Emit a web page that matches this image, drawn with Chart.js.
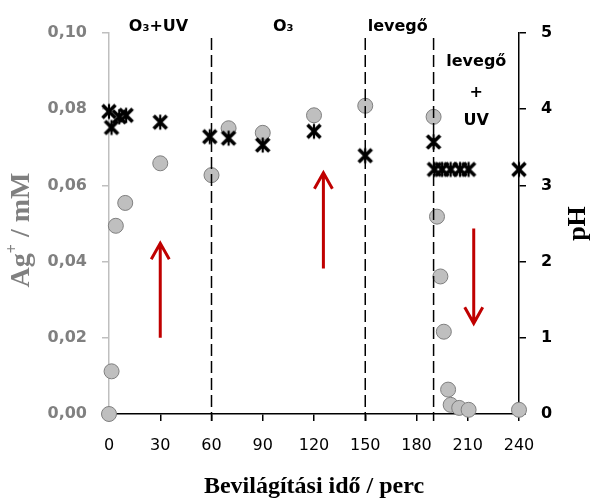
<!DOCTYPE html>
<html>
<head>
<meta charset="utf-8">
<script src="https://cdn.jsdelivr.net/npm/chart.js@4.4.0/dist/chart.umd.min.js"></script>
<style>
  html, body { margin: 0; padding: 0; background: #fff; }
</style>
</head>
<body>
<canvas id="myChart" width="592" height="501"></canvas>
<script>
// Ag+ concentration (mM), grey circles, left axis
const agTimes  = [0, 1.5, 4, 9.5, 30, 60, 70, 90, 120, 150, 190, 192, 194, 196, 198.5, 200, 205, 210.5, 240];
const agValues = [0, 0.0112, 0.0494, 0.0554, 0.0658, 0.0627, 0.0750, 0.0738, 0.0784, 0.0809, 0.0780,
                  0.0518, 0.0361, 0.0216, 0.0064, 0.0024, 0.0016, 0.0011, 0.0011];

// pH, black stars, right axis
const phTimes  = [0, 1.5, 6, 10, 30, 59, 70, 90, 120, 150, 190, 190.5, 195, 200, 205.5, 210.5, 240];
const phValues = [3.97, 3.76, 3.90, 3.92, 3.83, 3.64, 3.62, 3.53, 3.71, 3.39, 3.57,
                  3.21, 3.21, 3.21, 3.21, 3.21, 3.21];

const xTicks  = [0, 30, 60, 90, 120, 150, 180, 210, 240];
const agTicks = [0, 0.02, 0.04, 0.06, 0.08, 0.10];
const phTicks = [0, 1, 2, 3, 4, 5];

// treatment phases
const phaseBounds = [60, 150, 190];
const phaseLabels = [['O₃+UV'], ['O₃'], ['levegő'], ['levegő', '+', 'UV']];
const phaseLabelAt = [29, 102, 169, 215];

// red arrows (time, Ag from, Ag to)
const arrowTimes = [30, 125.5, 213.5];
const arrowFrom  = [0.0200, 0.0382, 0.0487];
const arrowTo    = [0.0448, 0.0633, 0.0238];

const xTitle = 'Bevilágítási idő / perc';
const phTitle = 'pH';

function starMarker() {
    const c = document.createElement('canvas');
    c.width = 20; c.height = 20;
    const g = c.getContext('2d');
    g.strokeStyle = '#000';
    g.lineWidth = 3.6;
    g.beginPath();
    g.moveTo(3.5, 3.5); g.lineTo(16.5, 16.5);
    g.moveTo(16.5, 3.5); g.lineTo(3.5, 16.5);
    g.stroke();
    g.lineWidth = 2.2;
    g.beginPath();
    g.moveTo(10, 2.5); g.lineTo(10, 17.5);
    g.stroke();
    return c;
}

const overlay = {
    id: 'overlay',
    afterDatasetsDraw(chart) {
        const ctx = chart.ctx;
        const x = chart.scales.x, y = chart.scales.y;
        const area = chart.chartArea;

        // dashed phase boundaries
        ctx.save();
        ctx.strokeStyle = '#000';
        ctx.lineWidth = 1.5;
        ctx.setLineDash([12, 5]);
        phaseBounds.forEach(t => {
            const px = x.getPixelForValue(t);
            ctx.beginPath();
            ctx.moveTo(px, y.getPixelForValue(0.0987));
            ctx.lineTo(px, area.bottom + 7);
            ctx.stroke();
        });
        ctx.restore();

        // arrows
        ctx.save();
        ctx.strokeStyle = '#c00000';
        ctx.lineWidth = 3;
        arrowTimes.forEach((t, i) => {
            const px = x.getPixelForValue(t);
            const y0 = y.getPixelForValue(arrowFrom[i]);
            const y1 = y.getPixelForValue(arrowTo[i]);
            const dir = y1 < y0 ? 1 : -1;
            ctx.beginPath();
            ctx.moveTo(px, y0);
            ctx.lineTo(px, y1);
            ctx.moveTo(px - 9, y1 + dir * 16);
            ctx.lineTo(px, y1);
            ctx.lineTo(px + 9, y1 + dir * 16);
            ctx.stroke();
        });
        ctx.restore();

        // phase labels
        ctx.save();
        ctx.fillStyle = '#000';
        ctx.font = 'bold 16px "DejaVu Sans"';
        ctx.textAlign = 'center';
        ctx.textBaseline = 'alphabetic';
        const rowBase = [31, 66, 97, 125];
        phaseLabels.forEach((lines, i) => {
            const px = x.getPixelForValue(phaseLabelAt[i]);
            lines.forEach((s, j) => {
                const base = lines.length > 1 ? rowBase[j + 1] : rowBase[0];
                ctx.fillText(s, px, base);
            });
        });
        ctx.restore();

        // axis titles
        ctx.save();
        ctx.fillStyle = '#000';
        ctx.font = 'bold 24px "Liberation Serif"';
        ctx.textAlign = 'center';
        ctx.textBaseline = 'middle';
        ctx.fillText(xTitle, (area.left + area.right) / 2, 487);

        ctx.save();
        ctx.translate(578, (area.top + area.bottom) / 2);
        ctx.rotate(-Math.PI / 2);
        ctx.font = 'bold 26px "Liberation Serif"';
        ctx.fillText(phTitle, 0, 0);
        ctx.restore();

        ctx.save();
        ctx.translate(22, 230);
        ctx.rotate(-Math.PI / 2);
        ctx.fillStyle = '#808080';
        ctx.textAlign = 'left';
        const big = 'bold 28px "Liberation Serif"', small = 'bold 16px "Liberation Serif"';
        ctx.font = big; const w1 = ctx.measureText('Ag').width, w3 = ctx.measureText(' / mM').width;
        ctx.font = small; const w2 = ctx.measureText('+').width;
        let cx = -(w1 + w2 + w3) / 2;
        ctx.font = big; ctx.fillText('Ag', cx, 0); cx += w1;
        ctx.font = small; ctx.fillText('+', cx, -9); cx += w2;
        ctx.font = big; ctx.fillText(' / mM', cx, 0);
        ctx.restore();
        ctx.restore();
    }
};

const ctx = document.getElementById('myChart').getContext('2d');
const chart = new Chart(ctx, {
    type: 'scatter',
    data: {
        datasets: [{
            label: 'pH',
            data: phTimes.map((t, i) => ({ x: t, y: phValues[i] })),
            yAxisID: 'y2',
            pointStyle: starMarker(),
            pointRadius: 10,
            clip: false,
            order: 0
        }, {
            label: 'Ag+',
            data: agTimes.map((t, i) => ({ x: t, y: agValues[i] })),
            yAxisID: 'y',
            pointStyle: 'circle',
            pointRadius: 7.5,
            backgroundColor: '#bfbfbf',
            borderColor: '#7f7f7f',
            borderWidth: 1,
            clip: false,
            order: 1
        }]
    },
    options: {
        responsive: false,
        animation: false,
        layout: { padding: { top: 33, left: 0, right: 0, bottom: 0 } },
        plugins: { legend: { display: false }, tooltip: { enabled: false } },
        scales: {
            x: {
                type: 'linear', min: 0, max: 240,
                afterBuildTicks: s => { s.ticks = xTicks.map(v => ({ value: v })); },
                afterFit: s => { s.height = 87; },
                grid: { drawOnChartArea: false, tickLength: 7, color: '#000', lineWidth: 1.5 },
                border: { color: '#000', width: 1.5 },
                ticks: { color: '#000', padding: 15, maxRotation: 0,
                         font: { family: 'DejaVu Sans', size: 16 } }
            },
            y: {
                position: 'left', min: 0, max: 0.1,
                afterBuildTicks: s => { s.ticks = agTicks.map(v => ({ value: v })); },
                afterFit: s => { s.width = 109; },
                grid: { drawOnChartArea: false, tickLength: 7, color: '#bfbfbf', lineWidth: 1.5 },
                border: { color: '#bfbfbf', width: 1.5 },
                ticks: { color: '#808080', padding: 15,
                         font: { family: 'DejaVu Sans', size: 16, weight: 'bold' },
                         callback: v => v.toFixed(2).replace('.', ',') }
            },
            y2: {
                position: 'right', min: 0, max: 5,
                afterBuildTicks: s => { s.ticks = phTicks.map(v => ({ value: v })); },
                afterFit: s => { s.width = 73; },
                grid: { drawOnChartArea: false, tickLength: 7, color: '#000', lineWidth: 1.5 },
                border: { color: '#000', width: 1.5 },
                ticks: { color: '#000', padding: 15,
                         font: { family: 'DejaVu Sans', size: 16, weight: 'bold' } }
            }
        }
    },
    plugins: [overlay]
});
</script>
</body>
</html>
